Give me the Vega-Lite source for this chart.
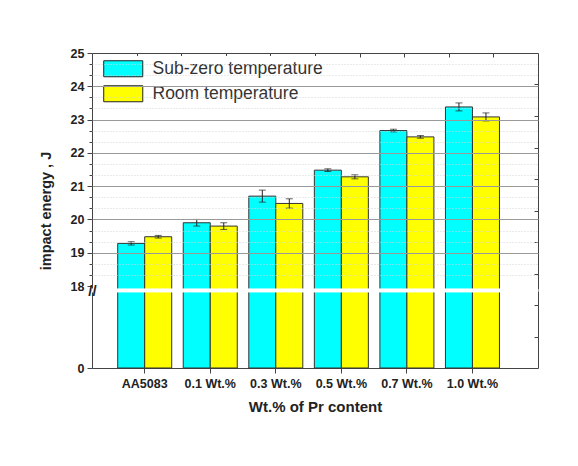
{
  "$schema": "https://vega.github.io/schema/vega-lite/v6.json",
  "width": 446,
  "height": 315,
  "autosize": {"type": "none"},
  "padding": {"left": 92, "top": 53, "right": 40, "bottom": 98},
  "background": "white",
  "config": {
    "view": {"stroke": "#444", "strokeWidth": 1},
    "font": "Liberation Sans"
  },
  "data": {
    "values": [
      {"cat": "AA5083", "series": "Sub-zero temperature", "value": 19.28, "lo": 19.23, "hi": 19.33},
      {"cat": "AA5083", "series": "Room temperature", "value": 19.48, "lo": 19.44, "hi": 19.52},
      {"cat": "0.1 Wt.%", "series": "Sub-zero temperature", "value": 19.9, "lo": 19.8, "hi": 20.0},
      {"cat": "0.1 Wt.%", "series": "Room temperature", "value": 19.8, "lo": 19.7, "hi": 19.9},
      {"cat": "0.3 Wt.%", "series": "Sub-zero temperature", "value": 20.7, "lo": 20.52, "hi": 20.88},
      {"cat": "0.3 Wt.%", "series": "Room temperature", "value": 20.48, "lo": 20.34, "hi": 20.62},
      {"cat": "0.5 Wt.%", "series": "Sub-zero temperature", "value": 21.48, "lo": 21.44, "hi": 21.52},
      {"cat": "0.5 Wt.%", "series": "Room temperature", "value": 21.28, "lo": 21.22, "hi": 21.34},
      {"cat": "0.7 Wt.%", "series": "Sub-zero temperature", "value": 22.67, "lo": 22.63, "hi": 22.71},
      {"cat": "0.7 Wt.%", "series": "Room temperature", "value": 22.48, "lo": 22.44, "hi": 22.52},
      {"cat": "1.0 Wt.%", "series": "Sub-zero temperature", "value": 23.38, "lo": 23.26, "hi": 23.5},
      {"cat": "1.0 Wt.%", "series": "Room temperature", "value": 23.08, "lo": 22.96, "hi": 23.2}
    ]
  },
  "resolve": {"scale": {"x": "independent", "y": "independent"}},
  "layer": [
    {
      "layer": [
        {
          "mark": {"type": "bar", "stroke": "#333", "strokeWidth": 1},
          "encoding": {
            "x": {
              "field": "cat", "type": "nominal",
              "sort": ["AA5083", "0.1 Wt.%", "0.3 Wt.%", "0.5 Wt.%", "0.7 Wt.%", "1.0 Wt.%"],
              "scale": {"paddingInner": 0.176, "paddingOuter": 0.49, "align": 0.4},
              "axis": {
                "title": "Wt.% of Pr content", "titleFontSize": 15, "titleFontWeight": "bold", "titleColor": "#222", "titlePadding": 10,
                "labelAngle": 0, "labelFontSize": 12.5, "labelFontWeight": "bold", "labelColor": "#222", "labelPadding": 4,
                "tickSize": 5, "tickColor": "#444", "domain": false, "grid": false, "zindex": 1
              }
            },
            "xOffset": {"field": "series", "type": "nominal", "sort": ["Sub-zero temperature", "Room temperature"]},
            "y": {
              "field": "value", "type": "quantitative",
              "scale": {"domain": [0, 18, 25], "range": [315, 233, 0], "nice": false, "zero": false},
              "axis": {
                "title": "impact energy , J", "titleFontSize": 14.5, "titleFontWeight": "bold", "titleColor": "#222", "titlePadding": 17,
                "values": [0, 17, 18, 18.3333, 18.6667, 19, 19.3333, 19.6667, 20, 20.3333, 20.6667, 21, 21.3333, 21.6667, 22, 22.3333, 22.6667, 23, 23.3333, 23.6667, 24, 24.3333, 24.6667, 25],
                "tickCount": 200,
                "labelExpr": "datum.value == 17 ? '//' : (datum.value == round(datum.value) ? format(datum.value, 'd') : '')",
                "labelFontWeight": "bold", "labelColor": "#222",
                "labelAlign": {"condition": {"test": "datum.value == 17", "value": "center"}, "value": "right"},
                "labelPadding": {"condition": {"test": "datum.value == 17", "value": -5}, "value": 3},
                "labelFontSize": {"condition": {"test": "datum.value == 17", "value": 15}, "value": 12.5},
                "tickSize": {"condition": {"test": "datum.value == round(datum.value)", "value": 5}, "value": 3},
                "tickOpacity": {"condition": {"test": "datum.value == 17", "value": 0}, "value": 1},
                "tickColor": "#444",
                "grid": true,
                "gridColor": {"condition": {"test": "datum.value == round(datum.value)", "value": "#999"}, "value": "#d4d4d4"},
                "gridDash": {"condition": {"test": "datum.value == round(datum.value)", "value": []}, "value": [1, 2]},
                "gridOpacity": {"condition": {"test": "datum.value > 18 && datum.value < 25", "value": 1}, "value": 0},
                "domain": false, "zindex": 1, "labelOverlap": false
              }
            },
            "color": {
              "field": "series", "type": "nominal",
              "sort": ["Sub-zero temperature", "Room temperature"],
              "scale": {"domain": ["Sub-zero temperature", "Room temperature"], "range": ["#00FFFF", "#FFFF00"]},
              "legend": {
                "title": null, "orient": "none", "legendX": 18.5, "legendY": 3, "padding": 4, "fillColor": "white",
                "symbolType": "M-2.44,-1H2.44V1H-2.44Z", "symbolSize": 256, "symbolStrokeColor": "#222", "symbolStrokeWidth": 1, "symbolOpacity": 1,
                "labelFontSize": 17.5, "labelColor": "#333", "labelOffset": 20.5, "rowPadding": 4, "labelLimit": 300
              }
            }
          }
        },
        {
          "mark": {"type": "rule", "color": "#222", "strokeWidth": 1},
          "encoding": {
            "x": {"field": "cat", "type": "nominal", "sort": ["AA5083", "0.1 Wt.%", "0.3 Wt.%", "0.5 Wt.%", "0.7 Wt.%", "1.0 Wt.%"]},
            "xOffset": {"field": "series", "type": "nominal", "sort": ["Sub-zero temperature", "Room temperature"]},
            "y": {"field": "lo", "type": "quantitative"},
            "y2": {"field": "hi"}
          }
        },
        {
          "mark": {"type": "tick", "color": "#222", "thickness": 1, "size": 7, "orient": "horizontal"},
          "encoding": {
            "x": {"field": "cat", "type": "nominal", "sort": ["AA5083", "0.1 Wt.%", "0.3 Wt.%", "0.5 Wt.%", "0.7 Wt.%", "1.0 Wt.%"]},
            "xOffset": {"field": "series", "type": "nominal", "sort": ["Sub-zero temperature", "Room temperature"]},
            "y": {"field": "lo", "type": "quantitative"}
          }
        },
        {
          "mark": {"type": "tick", "color": "#222", "thickness": 1, "size": 7, "orient": "horizontal"},
          "encoding": {
            "x": {"field": "cat", "type": "nominal", "sort": ["AA5083", "0.1 Wt.%", "0.3 Wt.%", "0.5 Wt.%", "0.7 Wt.%", "1.0 Wt.%"]},
            "xOffset": {"field": "series", "type": "nominal", "sort": ["Sub-zero temperature", "Room temperature"]},
            "y": {"field": "hi", "type": "quantitative"}
          }
        },
        {
          "data": {"values": [{}]},
          "mark": {"type": "rect", "fill": "white", "stroke": "white", "strokeWidth": 1},
          "encoding": {
            "y": {"datum": 16.7, "type": "quantitative"},
            "y2": {"datum": 17.35}
          }
        }
      ]
    },
    {
      "data": {"values": [{}]},
      "mark": {"type": "point", "opacity": 0},
      "encoding": {
        "x": {"datum": 0, "type": "quantitative", "scale": {"domain": [0, 10], "nice": false},
          "axis": {"orient": "top", "values": [1, 2, 3, 4, 5, 6, 7, 8, 9], "tickCount": 100, "labels": false, "domain": false, "grid": false, "tickSize": -4, "tickColor": "#444", "title": null}},
        "y": {"datum": 0, "type": "quantitative", "scale": {"domain": [0, 10], "nice": false},
          "axis": {"orient": "right", "values": [1, 2, 3, 4, 5, 6, 7, 8, 9], "tickCount": 100, "labels": false, "domain": false, "grid": false, "tickSize": -4, "tickColor": "#444", "title": null}}
      }
    }
  ]
}
